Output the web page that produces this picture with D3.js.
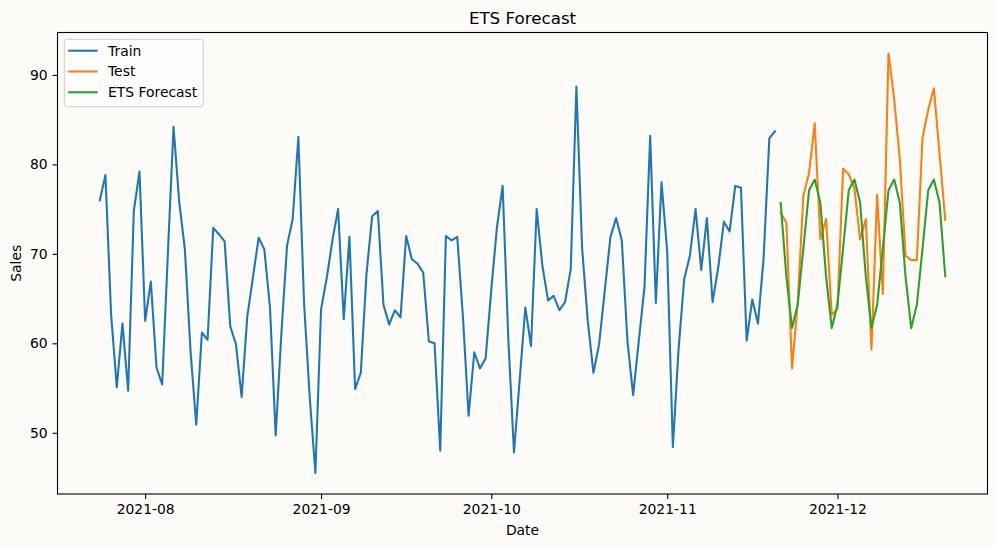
<!DOCTYPE html>
<html>
<head>
<meta charset="utf-8">
<script src="https://cdn.jsdelivr.net/npm/d3@7"></script>
<style>
  body { margin: 0; background: #fcfbf7; }
  svg { display: block; font-family: "DejaVu Sans", sans-serif; }
</style>
</head>
<body>
<div id="chart"></div>
<script>
// daily sales, train: 2021-07-24 .. 2021-11-20, test/forecast: 2021-11-21 .. 2021-12-20
const trainStart = '2021-07-24';
const testStart = '2021-11-21';

const trainValues = [
  76.0, 78.8, 63.2, 55.1, 62.2, 54.7, 74.8, 79.2, 62.5, 66.9, 57.3, 55.4, 70.0, 84.2, 75.8, 70.5, 59.1, 50.9, 61.2, 60.4,
  72.9, 72.2, 71.4, 61.9, 59.9, 54.0, 63.0, 67.4, 71.8, 70.5, 64.0, 49.7, 61.0, 70.9, 73.9, 83.1, 64.5, 54.0, 45.5,
  63.8, 67.3, 71.5, 75.0, 62.7, 71.9, 54.9, 56.7, 67.7, 74.2, 74.8, 64.3, 62.1, 63.7, 62.9, 72.0, 69.4, 68.9, 67.9, 60.2,
  60.0, 48.0, 72.0, 71.5, 71.9, 63.0, 51.9, 59.0, 57.2, 58.3, 66.0, 73.0, 77.6, 60.5, 47.8, 55.9, 64.0, 59.7, 75.0,
  68.7, 64.8, 65.3, 63.7, 64.6, 68.3, 88.7, 70.7, 62.5, 56.7, 59.9, 65.9, 71.9, 74.0, 71.5, 60.2, 54.2, 60.3, 66.3, 83.2,
  64.5, 78.0, 70.3, 48.4, 59.3, 67.2, 69.8, 75.0, 68.2, 74.0, 64.6, 68.5, 73.6, 72.5, 77.6, 77.4, 60.3, 64.9, 62.2, 69.6, 82.9, 83.7
];

const testValues = [
  74.6, 73.5, 57.2, 64.5, 76.5, 79.0, 84.6, 71.6, 73.9, 63.2,
  63.8, 79.5, 78.9, 77.3, 71.6, 73.9, 59.3, 76.6, 65.5, 92.4,
  87.3, 80.6, 69.8, 69.3, 69.3, 83.0, 86.1, 88.5, 81.2, 73.8
];

const forecastValues = [
  75.7, 67.5, 61.7, 64.3, 70.6, 77.1, 78.3,
  75.7, 67.5, 61.7, 64.3, 70.6, 77.1, 78.3,
  75.7, 67.5, 61.7, 64.3, 70.6, 77.1, 78.3,
  75.7, 67.5, 61.7, 64.3, 70.6, 77.1, 78.3,
  75.7, 67.5
];

const yTicks = [50, 60, 70, 80, 90];
const seriesNames = ['Train', 'Test', 'ETS Forecast'];
const colors = ['#1f77b4', '#ff7f0e', '#2ca02c'];

const parse = d3.timeParse('%Y-%m-%d');
const dayList = (start, n) => d3.range(n).map(i => d3.timeDay.offset(parse(start), i));
const trainDates = dayList(trainStart, trainValues.length);
const testDates = dayList(testStart, testValues.length);

const train = trainValues.map((v, i) => ({ date: trainDates[i], value: v }));
const test = testValues.map((v, i) => ({ date: testDates[i], value: v }));
const forecast = forecastValues.map((v, i) => ({ date: testDates[i], value: v }));

const width = 996;
const height = 547;
const margin = { top: 32.5, right: 8.5, bottom: 53, left: 57.5 };
const innerW = width - margin.left - margin.right;
const innerH = height - margin.top - margin.bottom;

// matplotlib-ish 5% margins
const allDates = trainDates.concat(testDates);
const allValues = trainValues.concat(testValues, forecastValues);
const [d0, d1] = d3.extent(allDates);
const dPad = (d1 - d0) * 0.05;
const [v0, v1] = d3.extent(allValues);
const vPad = (v1 - v0) * 0.05;

const x = d3.scaleTime()
  .domain([new Date(+d0 - dPad), new Date(+d1 + dPad)])
  .range([0, innerW]);
const y = d3.scaleLinear()
  .domain([v0 - vPad, v1 + vPad])
  .range([innerH, 0]);

const svg = d3.select('#chart')
  .append('svg')
  .attr('width', width)
  .attr('height', height);

svg.append('rect')
  .attr('width', width)
  .attr('height', height)
  .attr('fill', '#fcfbf7');

const g = svg.append('g')
  .attr('transform', `translate(${margin.left},${margin.top})`);

const fontSize = '13.9px';

const xAxis = g.append('g')
  .attr('transform', `translate(0,${innerH})`)
  .call(d3.axisBottom(x)
    .ticks(d3.timeMonth.every(1))
    .tickFormat(d3.timeFormat('%Y-%m'))
    .tickSize(4.9)
    .tickPadding(4.9));

const yAxis = g.append('g')
  .call(d3.axisLeft(y)
    .tickValues(yTicks)
    .tickSize(4.9)
    .tickPadding(4.9));

[xAxis, yAxis].forEach(a => {
  a.select('.domain').remove();
  a.selectAll('.tick line').attr('stroke', '#000').attr('stroke-width', 1.1);
  a.selectAll('.tick text')
    .attr('fill', '#000')
    .style('font-size', fontSize)
    .style('font-family', '"DejaVu Sans", sans-serif');
});

const line = d3.line()
  .x(d => x(d.date))
  .y(d => y(d.value));

[train, test, forecast].forEach((data, i) => {
  g.append('path')
    .datum(data)
    .attr('fill', 'none')
    .attr('stroke', colors[i])
    .attr('stroke-width', 2.08)
    .attr('stroke-linejoin', 'round')
    .attr('stroke-linecap', 'square')
    .attr('d', line);
});

// frame
g.append('rect')
  .attr('width', innerW)
  .attr('height', innerH)
  .attr('fill', 'none')
  .attr('stroke', '#000')
  .attr('stroke-width', 1.1);

// title & axis labels
svg.append('text')
  .attr('x', margin.left + innerW / 2)
  .attr('y', 24)
  .attr('text-anchor', 'middle')
  .style('font-size', '16.7px')
  .text('ETS Forecast');

svg.append('text')
  .attr('x', margin.left + innerW / 2)
  .attr('y', 535)
  .attr('text-anchor', 'middle')
  .style('font-size', fontSize)
  .text('Date');

svg.append('text')
  .attr('transform', `translate(21,${margin.top + innerH / 2}) rotate(-90)`)
  .attr('text-anchor', 'middle')
  .style('font-size', fontSize)
  .text('Sales');

// legend
const legend = svg.append('g')
  .attr('transform', 'translate(64.3,39.3)');

legend.append('rect')
  .attr('width', 139)
  .attr('height', 67.4)
  .attr('rx', 3)
  .attr('fill', '#ffffff')
  .attr('fill-opacity', 0.8)
  .attr('stroke', '#cccccc')
  .attr('stroke-width', 1);

seriesNames.forEach((name, i) => {
  const cy = 11.4 + i * 20.8;
  legend.append('line')
    .attr('x1', 4)
    .attr('x2', 33.4)
    .attr('y1', cy)
    .attr('y2', cy)
    .attr('stroke', colors[i])
    .attr('stroke-width', 2.08);
  legend.append('text')
    .attr('x', 43.7)
    .attr('y', cy)
    .attr('dy', '0.35em')
    .style('font-size', fontSize)
    .text(name);
});
</script>
</body>
</html>
